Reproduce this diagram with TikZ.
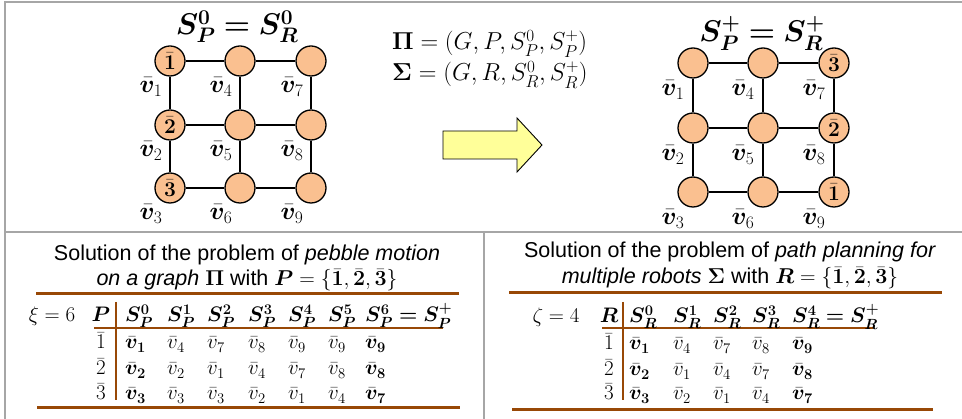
\RequirePackage{fix-cm}
\documentclass[tikz,border=0pt]{standalone}
\usepackage{amsmath}
\usepackage{bm}
\usepackage[no-math]{fontspec}
\newfontfamily\arial{Liberation Sans}
\usetikzlibrary{calc}
\definecolor{peach}{RGB}{250,192,144}
\definecolor{brownrule}{RGB}{152,72,6}
\definecolor{framegray}{RGB}{166,166,166}
\definecolor{arrowyellow}{RGB}{255,255,153}
\newcommand{\bb}[1]{\bar{\bm{#1}}}
\newcommand{\bv}[1]{\bar{\bm{v}}_{\bm{#1}}}
\tikzset{
  vert/.style={circle, draw, line width=1.3pt, fill=peach, minimum size=30pt, inner sep=0pt, font=\fontsize{21}{21}\selectfont},
  gedge/.style={line width=1.3pt},
  vlab/.style={inner sep=0pt, font=\fontsize{25}{25}\selectfont},
  framel/.style={draw=framegray, line width=1.2pt},
  bigrule/.style={draw=brownrule, line width=3pt},
  thinrule/.style={draw=brownrule, line width=1.3pt},
  cell/.style={anchor=base west, inner sep=0pt, font=\fontsize{21}{21}\selectfont},
  ttl/.style={anchor=base, inner sep=0pt, font=\arial\fontsize{21.5}{21.5}\selectfont},
  gtitle/.style={anchor=base, inner sep=0pt, font=\fontsize{30}{30}\selectfont},
  eqn/.style={anchor=base west, inner sep=0pt, font=\fontsize{24.5}{24.5}\selectfont},
}
\begin{document}
\begin{tikzpicture}[x=1pt,y=-1pt]
\useasboundingbox (0,0) rectangle (962,419);
% frame
\draw[framel] (5,419) -- (5,2) -- (962,2);
\draw[framel] (5,232) -- (962,232);
\draw[framel] (484,232) -- (484,419);

% left graph
\node[gtitle] (tl) at (237,35) {$\bm{S_P^0 = S_R^0}$};
\node[vert] (L1) at (170,61) {$\bb{1}$};
\node[vert] (L2) at (170,125) {$\bb{2}$};
\node[vert] (L3) at (170,188) {$\bb{3}$};
\node[vert] (L4) at (240,61) {};
\node[vert] (L5) at (240,125) {};
\node[vert] (L6) at (240,188) {};
\node[vert] (L7) at (311,61) {};
\node[vert] (L8) at (311,125) {};
\node[vert] (L9) at (311,188) {};
\foreach \a/\b in {L1/L4,L4/L7,L2/L5,L5/L8,L3/L6,L6/L9,L1/L2,L2/L3,L4/L5,L5/L6,L7/L8,L8/L9}
  \draw[gedge] (\a) -- (\b);
\foreach \n in {1,...,9}
  \node[vlab] (lv\n) at ($(L\n)+(-19,26)$) {$\bar{\bm v}_\n$};

% right graph
\node[gtitle] (tr) at (762,42) {$\bm{S_P^+ = S_R^+}$};
\node[vert] (R1) at (693,63) {};
\node[vert] (R2) at (693,128) {};
\node[vert] (R3) at (693,192) {};
\node[vert] (R4) at (763,63) {};
\node[vert] (R5) at (763,128) {};
\node[vert] (R6) at (763,192) {};
\node[vert] (R7) at (834,63) {$\bb{3}$};
\node[vert] (R8) at (834,128) {$\bb{2}$};
\node[vert] (R9) at (834,192) {$\bb{1}$};
\foreach \a/\b in {R1/R4,R4/R7,R2/R5,R5/R8,R3/R6,R6/R9,R1/R2,R2/R3,R4/R5,R5/R6,R7/R8,R8/R9}
  \draw[gedge] (\a) -- (\b);
\foreach \n in {1,...,9}
  \node[vlab] (rv\n) at ($(R\n)+(-20,27)$) {$\bar{\bm v}_\n$};

% equations
\node[eqn] (eqPi) at (392,50) {$\bm{\Pi} = (G, P, S_P^0, S_P^+)$};
\node[eqn] (eqSigma) at (392,81) {$\bm{\Sigma} = (G, R, S_R^0, S_R^+)$};

% arrow
\draw[fill=arrowyellow, line width=0.9pt, line join=miter]
  (443,131) -- (517,131) -- (517,118) -- (542,145) -- (517,172) -- (517,159) -- (443,159) -- cycle;

% left table
\node[ttl] (lt1) at (247,261) {Solution of the problem of \textit{pebble motion}};
\node[ttl] (lt2) at (247,286) {\textit{on a graph} $\bm{\Pi}$ with $\bm{P} = \{\bb{1}, \bb{2}, \bb{3}\}$};
\draw[bigrule] (36,294) -- (459,294);
\draw[bigrule] (37,408) -- (460,408);
\draw[thinrule] (94,328) -- (443,328);
\draw[thinrule] (116,302) -- (116,400);
\node[cell, anchor=base] (xi) at (52,322) {$\xi = 6$};
\node[cell, anchor=base] (lP) at (101,322) {$\bm{P}$};
\node[cell, anchor=base] (lr1) at (101,349) {$\bar 1$};
\node[cell, anchor=base] (lr2) at (101,375) {$\bar 2$};
\node[cell, anchor=base] (lr3) at (101,400) {$\bar 3$};
\foreach \x/\t [count=\i] in {125/{\bm{S_P^0}},167/{\bm{S_P^1}},207/{\bm{S_P^2}},248/{\bm{S_P^3}},288/{\bm{S_P^4}},328/{\bm{S_P^5}},365/{\bm{S_P^6 = S_P^+}}}
  \node[cell] (lh\i) at (\x,322) {$\t$};
\foreach \x/\t [count=\i] in {125/{\bv{1}},167/{\bar v_4},207/{\bar v_7},248/{\bar v_8},288/{\bar v_9},328/{\bar v_9},365/{\bv{9}}}
  \node[cell] (la\i) at (\x,349) {$\t$};
\foreach \x/\t [count=\i] in {125/{\bv{2}},167/{\bar v_2},207/{\bar v_1},248/{\bar v_4},288/{\bar v_7},328/{\bar v_8},365/{\bv{8}}}
  \node[cell] (lb\i) at (\x,375) {$\t$};
\foreach \x/\t [count=\i] in {125/{\bv{3}},167/{\bar v_3},207/{\bar v_3},248/{\bar v_2},288/{\bar v_1},328/{\bar v_4},365/{\bv{7}}}
  \node[cell] (lc\i) at (\x,400) {$\t$};

% right table
\node[ttl] (rt1) at (730,258) {Solution of the problem of \textit{path planning for}};
\node[ttl] (rt2) at (730,284) {\textit{multiple robots} $\bm{\Sigma}$ with $\bm{R} = \{\bb{1}, \bb{2}, \bb{3}\}$};
\draw[bigrule] (509,293) -- (942,293);
\draw[bigrule] (512,410) -- (933,410);
\draw[thinrule] (602,328) -- (873,328);
\draw[thinrule] (623,302) -- (623,400);
\node[cell, anchor=base] (zeta) at (556,323) {$\zeta = 4$};
\node[cell, anchor=base] (rR) at (609,323) {$\bm{R}$};
\node[cell, anchor=base] (rr1) at (609,350) {$\bar 1$};
\node[cell, anchor=base] (rr2) at (609,376) {$\bar 2$};
\node[cell, anchor=base] (rr3) at (609,400) {$\bar 3$};
\foreach \x/\t [count=\i] in {629/{\bm{S_R^0}},673/{\bm{S_R^1}},713/{\bm{S_R^2}},752/{\bm{S_R^3}},792/{\bm{S_R^4 = S_R^+}}}
  \node[cell] (rh\i) at (\x,323) {$\t$};
\foreach \x/\t [count=\i] in {629/{\bv{1}},673/{\bar v_4},713/{\bar v_7},752/{\bar v_8},792/{\bv{9}}}
  \node[cell] (ra\i) at (\x,350) {$\t$};
\foreach \x/\t [count=\i] in {629/{\bv{2}},673/{\bar v_1},713/{\bar v_4},752/{\bar v_7},792/{\bv{8}}}
  \node[cell] (rb\i) at (\x,376) {$\t$};
\foreach \x/\t [count=\i] in {629/{\bv{3}},673/{\bar v_2},713/{\bar v_1},752/{\bar v_4},792/{\bv{7}}}
  \node[cell] (rc\i) at (\x,400) {$\t$};
\end{tikzpicture}
\end{document}
